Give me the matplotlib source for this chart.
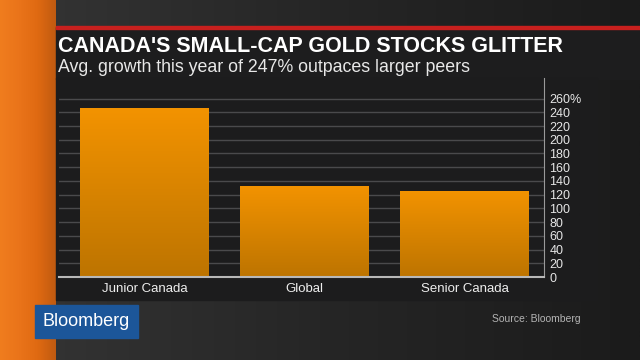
import matplotlib
matplotlib.use("Agg")
import matplotlib.pyplot as plt
import numpy as np
from matplotlib.patches import Rectangle
from matplotlib.colors import LinearSegmentedColormap

plt.rcParams['font.family'] = ['Liberation Sans', 'DejaVu Sans']

# data
categories = ['Junior Canada', 'Global', 'Senior Canada']
growth = [247, 133, 126]
yticks = list(range(0, 261, 20))
ytick_labels = [str(t) for t in yticks[:-1]] + ['260%']

title = "CANADA'S SMALL-CAP GOLD STOCKS GLITTER"
subtitle = "Avg. growth this year of 247% outpaces larger peers"
source = "Source: Bloomberg"

W, H = 640, 360
fig = plt.figure(figsize=(6.4, 3.6), dpi=100)

# background layer in pixel coords
bg = fig.add_axes([0, 0, 1, 1])
bg.set_xlim(0, W)
bg.set_ylim(H, 0)
bg.axis('off')

bgmap = LinearSegmentedColormap.from_list('bg', ['#353535', '#262626', '#1b1b1b'])
grad = np.linspace(0, 1, 256).reshape(1, -1)
bg.imshow(grad, extent=[0, W, H, 0], aspect='auto', cmap=bgmap, zorder=0)

# orange strip on the left
orange = LinearSegmentedColormap.from_list('or', ['#f07d1e', '#ea741a', '#e06a12', '#c05a10'])
bg.imshow(grad, extent=[0, 56, H, 0], aspect='auto', cmap=orange, zorder=1)

# title panel and red rule
bg.add_patch(Rectangle((56, 27), W - 56, 52, color='#1d1d1e', zorder=2))
bg.add_patch(Rectangle((56, 26), W - 56, 2.5, color='#c8201e', zorder=3))
# chart panel
bg.add_patch(Rectangle((56, 78), 541, 222, color='#1c1c1d', zorder=2))

bg.text(58, 51.5, title, color='white', fontsize=15.5, fontweight='bold',
        va='baseline', ha='left', zorder=4)
bg.text(58, 72, subtitle, color='#e8e8e8', fontsize=12.75,
        va='baseline', ha='left', zorder=4)

# Bloomberg logo box
bg.add_patch(Rectangle((35, 305), 103, 33, color='#1c5699', zorder=4))
bg.text(86.5, 322, 'Bloomberg', color='white', fontsize=13, ha='center',
        va='center', zorder=5)
bg.text(492, 319, source, color='#b4b4b4', fontsize=7.5, ha='left',
        va='center', zorder=4)

# main chart
ax = fig.add_axes([59 / W, 83 / H, 485 / W, 199 / H])
ax.set_facecolor('none')
x = np.arange(len(categories))
bars = ax.bar(x, growth, width=0.806, color='#e08a00', zorder=3)

barmap = LinearSegmentedColormap.from_list('bar', ['#bd7400', '#f39300'])
vgrad = np.linspace(1, 0, 256).reshape(-1, 1)
for b in bars:
    im = ax.imshow(vgrad, extent=[b.get_x(), b.get_x() + b.get_width(), 0, b.get_height()],
                   aspect='auto', cmap=barmap, zorder=4)
    im.set_clip_path(b)

ax.set_xlim(-0.534, 2.497)
ax.set_ylim(0, 290)
ax.set_yticks(yticks)
ax.set_yticklabels(ytick_labels)
ax.yaxis.tick_right()
ax.tick_params(axis='y', length=0, pad=4, labelsize=9, labelcolor='#e6e6e6')
ax.set_xticks(x)
ax.set_xticklabels(categories)
ax.tick_params(axis='x', length=0, pad=4, labelsize=9.5, labelcolor='#eeeeee')
ax.grid(axis='y', color='#4a4a4c', linewidth=1, zorder=1)
for s in ['top', 'left']:
    ax.spines[s].set_visible(False)
ax.spines['right'].set_color('#9a9a9a')
ax.spines['bottom'].set_color('#b8b8b8')
ax.spines['bottom'].set_linewidth(1.5)
ax.spines['bottom'].set_zorder(5)

fig.savefig('out.png', dpi=100)
